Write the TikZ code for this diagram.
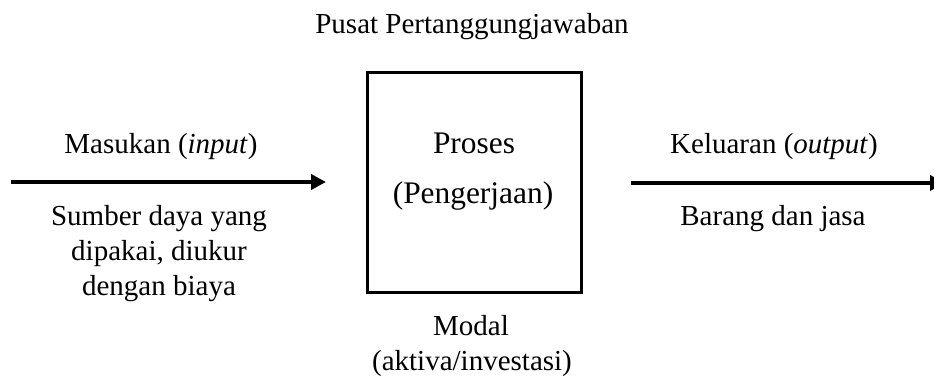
\documentclass[tikz,border=0pt]{standalone}
\usepackage{fontspec}
\setmainfont{Liberation Serif}
\usetikzlibrary{arrows.meta}
\begin{document}
\begin{tikzpicture}[x=0.5pt,y=-0.5pt,
  lbl/.style={anchor=base,inner sep=0pt,font=\fontsize{14.5}{17.4}\selectfont},
  big/.style={anchor=base,inner sep=0pt,font=\fontsize{15.7}{19}\selectfont},
  flow/.style={line width=2pt,-{Triangle[length=7.5pt,width=7.5pt]}},
  procbox/.style={draw,line width=1.5pt,minimum width=107pt,minimum height=110pt,inner sep=0pt}]
\useasboundingbox (0,0) rectangle (934,376);
\node[lbl] (title) at (472,33) {Pusat Pertanggungjawaban};
\node[procbox] (box) at (474,182) {};
\node[big] (proses) at (474,153) {Proses};
\node[big] (peng) at (473,203) {(Pengerjaan)};
\node[lbl] (in) at (161,153) {Masukan (\textit{input})};
\node[lbl] (s1) at (159,225) {Sumber daya yang};
\node[lbl] (s2) at (159,260) {dipakai, diukur};
\node[lbl] (s3) at (159,295) {dengan biaya};
\node[lbl] (out) at (774,153) {Keluaran (\textit{output})};
\node[lbl] (bj) at (773,225) {Barang dan jasa};
\node[lbl] (modal) at (471,335) {Modal};
\node[lbl] (aktiva) at (472,370) {(aktiva/investasi)};
\coordinate (a1) at (11,182);
\coordinate (a2) at (326,182);
\coordinate (b1) at (631,183);
\coordinate (b2) at (945,183);
\draw[flow] (a1) -- (a2);
\draw[flow] (b1) -- (b2);
\end{tikzpicture}
\end{document}
